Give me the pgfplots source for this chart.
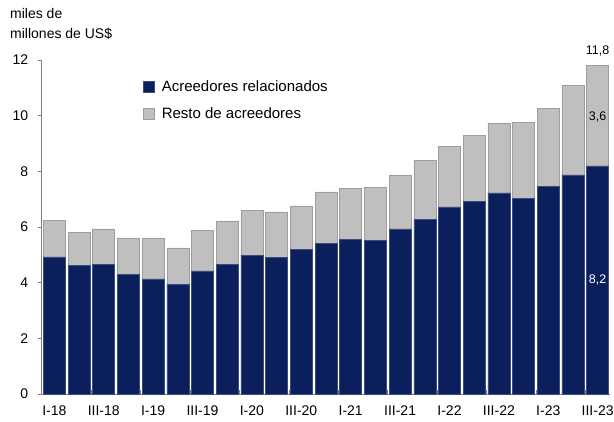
\documentclass[border=0pt]{standalone}
\usepackage{pgfplots}
\usepackage{pgfplotstable}
\pgfplotsset{compat=1.18}
\usepackage{fontspec}
\setmainfont{Liberation Sans}
\definecolor{navy}{RGB}{11,31,92}
\definecolor{gris}{RGB}{191,191,191}

\pgfplotstableread{
x   rel   resto
1   4.93  1.32
2   4.61  1.21
3   4.65  1.28
4   4.30  1.31
5   4.14  1.47
6   3.95  1.30
7   4.42  1.47
8   4.65  1.57
9   4.99  1.62
10  4.91  1.63
11  5.20  1.56
12  5.40  1.86
13  5.55  1.84
14  5.51  1.92
15  5.93  1.94
16  6.28  2.12
17  6.72  2.19
18  6.92  2.37
19  7.23  2.51
20  7.03  2.73
21  7.45  2.81
22  7.87  3.23
23  8.20  3.60
}\datos

\begin{document}
\begin{tikzpicture}
\fontsize{14}{17}\selectfont
\useasboundingbox (-42pt,-27pt) rectangle (572pt,394pt);
\begin{axis}[
    scale only axis,
    width=568pt, height=334pt,
    at={(0,0)}, anchor=south west,
    ybar stacked,
    bar width=0.89,
    xmin=0.5, xmax=23.5,
    ymin=0, ymax=12,
    ytick={0,2,...,12},
    xtick={1,3,...,23},
    xticklabels={I-18,III-18,I-19,III-19,I-20,III-20,I-21,III-21,I-22,III-22,I-23,III-23},
    minor xtick={2.5,4.5,...,22.5},
    axis x line*=bottom,
    axis y line*=left,
    axis line style={-, black!50, line width=1pt},
    tick align=outside,
    major tick length=4pt,
    minor tick length=4pt,
    x tick style={draw=none},
    minor x tick style={draw=black!50, line width=0.8pt, yshift=4pt},
    y tick style={black!50, line width=0.8pt},
    tick label style={font=\fontsize{14}{17}\selectfont, text=black},
    xticklabel style={yshift=-3pt},
    yticklabel style={xshift=-5pt},
    /pgf/number format/assume math mode=true,
    legend style={at={(rel axis cs:0.178,0.945)}, anchor=north west, draw=none, fill=none,
        font=\fontsize{15}{17}\selectfont, row sep=10pt, column sep=5pt, inner sep=0pt},
    legend cell align=left,
    legend image code/.code={\fill[#1] (0pt,-5pt) rectangle (11pt,6pt);},
    clip=false,
    after end axis/.code={
        \node[font=\fontsize{12.5}{14}\selectfont, anchor=south] at (axis cs:23,11.95) {11,8};
        \node[font=\fontsize{12.5}{14}\selectfont, text=black] at (axis cs:23,9.95) {3,6};
        \node[font=\fontsize{12.5}{14}\selectfont, text=white] at (axis cs:23,4.1) {8,2};
    },
]
\addplot[fill=navy, draw=navy!80!white, line width=0.5pt] table[x=x, y=rel] {\datos};
\addplot[fill=gris, draw=black!38, line width=0.5pt] table[x=x, y=resto] {\datos};
\legend{Acreedores relacionados, Resto de acreedores}
\end{axis}
\node[anchor=south west, align=left, inner sep=0pt, font=\fontsize{14}{20}\selectfont]
    at (-32pt,354pt) {miles de\\millones de US\$};
\end{tikzpicture}
\end{document}
